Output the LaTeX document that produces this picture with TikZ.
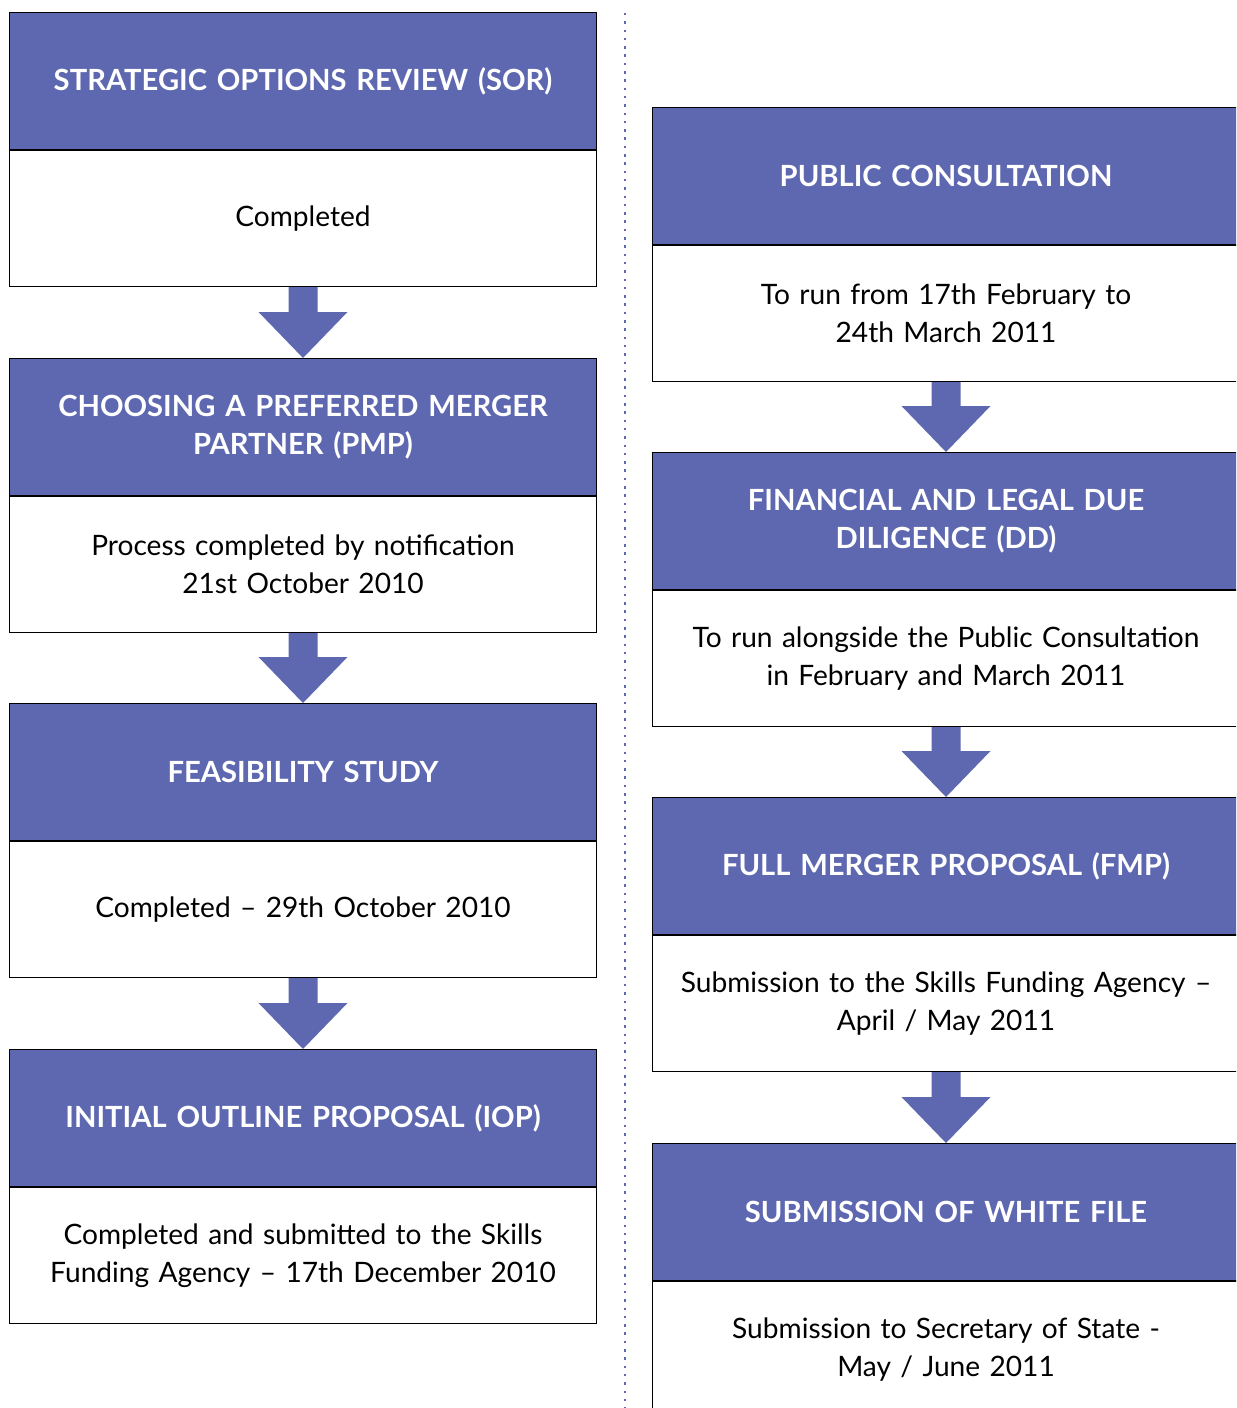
\documentclass[tikz,border=0pt]{standalone}
\usepackage{fontspec}
\setmainfont{Lato}
\usetikzlibrary{positioning}
\definecolor{stagefill}{RGB}{94,104,176}
\tikzset{
  head/.style={draw=black, line width=0.6pt, fill=stagefill, text=white,
    font=\bfseries\fontsize{16.6}{21.6}\selectfont, minimum width=11.76cm,
    minimum height=2.74cm, text width=11.2cm, align=center, inner sep=0pt},
  body/.style={draw=black, line width=0.6pt, fill=white, text=black,
    font=\fontsize{16}{21.8}\selectfont, minimum width=11.76cm,
    minimum height=2.72cm, text width=11.4cm, align=center, inner sep=0pt}
}
% block arrow from the body of one stage to the head of the next
\newcommand\stagearrow[2]{%
  \fill[stagefill] ([xshift=-0.29cm]#1.south) -- ([xshift=-0.29cm,yshift=0.92cm]#2.north)
    -- ([xshift=-0.89cm,yshift=0.92cm]#2.north) -- (#2.north)
    -- ([xshift=0.89cm,yshift=0.92cm]#2.north) -- ([xshift=0.29cm,yshift=0.92cm]#2.north)
    -- ([xshift=0.29cm]#1.south) -- cycle;}
\begin{document}
\begin{tikzpicture}[x=0.02cm,y=-0.02cm]
  \useasboundingbox (0,0) rectangle (1236,1408);
  \clip (0,0) rectangle (1236,1408);
  % left column
  \node[head,anchor=north] (sor) at (303,12) {STRATEGIC OPTIONS REVIEW (SOR)};
  \node[body,below=0pt of sor] (sorb) {Completed};
  \node[head,anchor=north] (pmp) at (303,358) {CHOOSING A PREFERRED MERGER\\PARTNER (PMP)};
  \node[body,below=0pt of pmp] (pmpb) {Process completed by notification\\21st October 2010};
  \node[head,anchor=north] (fs) at (303,703) {FEASIBILITY STUDY};
  \node[body,below=0pt of fs] (fsb) {Completed -- 29th October 2010};
  \node[head,anchor=north] (iop) at (303,1049) {INITIAL OUTLINE PROPOSAL (IOP)};
  \node[body,below=0pt of iop] (iopb) {Completed and submitted to the Skills\\Funding Agency -- 17th December 2010};
  \stagearrow{sorb}{pmp}
  \stagearrow{pmpb}{fs}
  \stagearrow{fsb}{iop}
  % divider
  \draw[stagefill, line width=0.05cm, dash pattern=on 0.05cm off 0.116cm] (625,13) -- (625,1408);
  % right column
  \node[head,anchor=north] (pc) at (946,107) {PUBLIC CONSULTATION};
  \node[body,below=0pt of pc] (pcb) {To run from 17th February to\\24th March 2011};
  \node[head,anchor=north] (dd) at (946,452) {FINANCIAL AND LEGAL DUE\\DILIGENCE (DD)};
  \node[body,below=0pt of dd] (ddb) {To run alongside the Public Consultation\\in February and March 2011};
  \node[head,anchor=north] (fmp) at (946,797) {FULL MERGER PROPOSAL (FMP)};
  \node[body,below=0pt of fmp] (fmpb) {Submission to the Skills Funding Agency --\\April / May 2011};
  \node[head,anchor=north] (wf) at (946,1143) {SUBMISSION OF WHITE FILE};
  \node[body,below=0pt of wf] (wfb) {Submission to Secretary of State -\\May / June 2011};
  \stagearrow{pcb}{dd}
  \stagearrow{ddb}{fmp}
  \stagearrow{fmpb}{wf}
\end{tikzpicture}
\end{document}
